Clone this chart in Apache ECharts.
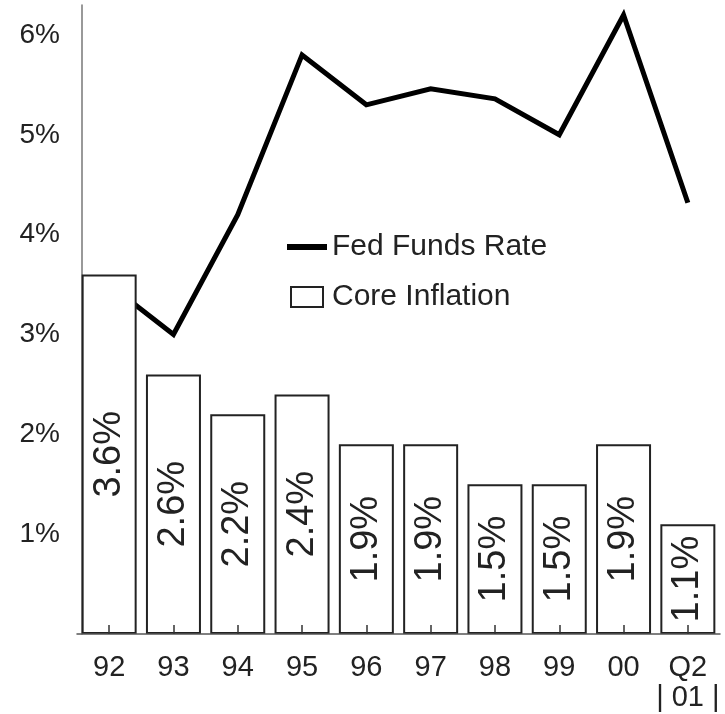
<!DOCTYPE html>
<html>
<head>
<meta charset="utf-8">
<script src="https://cdn.jsdelivr.net/npm/echarts@6/dist/echarts.min.js"></script>
<style>
  html, body { margin: 0; padding: 0; background: #fff; }
  #main { width: 725px; height: 714px; }
</style>
</head>
<body>
<div id="main"></div>
<script>
var years = ['92', '93', '94', '95', '96', '97', '98', '99', '00', 'Q2\n| 01 |'];
var fedFunds = [3.5, 3.0, 4.2, 5.8, 5.3, 5.46, 5.36, 5.0, 6.2, 4.32];
var coreInflation = [3.6, 2.6, 2.2, 2.4, 1.9, 1.9, 1.5, 1.5, 1.9, 1.1];
var yTicks = [1, 2, 3, 4, 5, 6];

var font = 'Liberation Sans, Arial, Helvetica, sans-serif';
var chart = echarts.init(document.getElementById('main'));

var option = {
    animation: false,
    textStyle: { fontFamily: font },
    grid: { left: 77, right: 5, top: 5, bottom: 80, containLabel: false },
    legend: {
        orient: 'vertical',
        left: 282,
        top: 226,
        itemWidth: 40,
        itemHeight: 20,
        itemGap: 18,
        symbolKeepAspect: true,
        data: [
            { name: 'Fed Funds Rate', icon: 'path://M0,0 L40,0 L40,6 L0,6 Z' },
            { name: 'Core Inflation', icon: 'path://M0,0 L32,0 L32,20 L0,20 Z' }
        ],
        textStyle: { fontSize: 30, lineHeight: 32, color: '#222', fontFamily: font }
    },
    xAxis: {
        type: 'category',
        data: years,
        boundaryGap: true,
        z: 10,
        axisLine: { show: true, lineStyle: { color: '#555', width: 1.5 } },
        axisTick: { show: true, inside: true, alignWithLabel: true, interval: 0, length: 9, lineStyle: { color: '#333', width: 1.5 } },
        axisLabel: { interval: 0, fontSize: 29, color: '#222', margin: 19, lineHeight: 30, fontFamily: font }
    },
    yAxis: {
        type: 'value',
        min: 0,
        max: 6.3,
        interval: 1,
        offset: -5,
        splitLine: { show: false },
        axisTick: { show: false },
        axisLine: { show: true, lineStyle: { color: '#777', width: 1.5 } },
        axisLabel: {
            fontSize: 28,
            color: '#222',
            margin: 22,
            fontFamily: font,
            formatter: function (v) {
                return yTicks.indexOf(v) >= 0 ? v + '%' : '';
            }
        }
    },
    series: [
        {
            name: 'Fed Funds Rate',
            type: 'line',
            data: fedFunds,
            symbol: 'none',
            z: 1,
            lineStyle: { color: '#000', width: 5, join: 'miter' },
            itemStyle: { color: '#000' }
        },
        {
            name: 'Core Inflation',
            type: 'bar',
            data: coreInflation,
            barWidth: 55,
            z: 2,
            itemStyle: { color: '#fff', borderColor: '#222', borderWidth: 2 },
            label: {
                show: true,
                position: 'inside',
                rotate: 90,
                fontSize: 38,
                color: '#222',
                fontFamily: font,
                formatter: '{c}%'
            }
        }
    ]
};
chart.setOption(option);
</script>
</body>
</html>
